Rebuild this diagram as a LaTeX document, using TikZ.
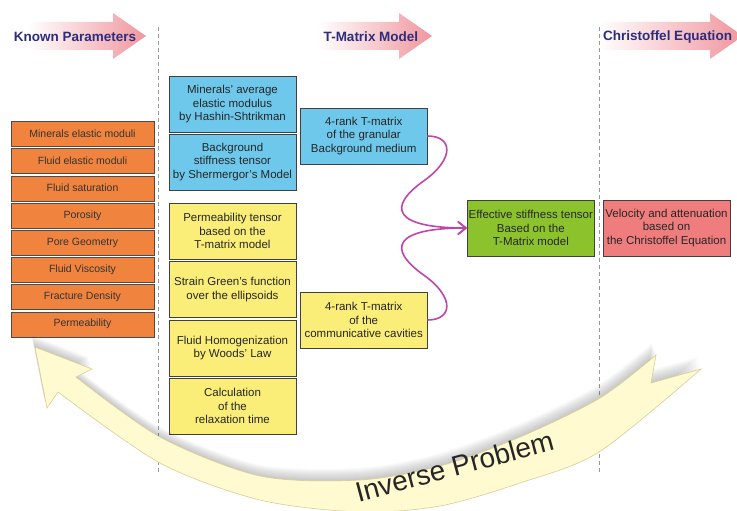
\documentclass[tikz,border=0pt]{standalone}
\usepackage{fontspec}
\setmainfont{Liberation Sans}
\usetikzlibrary{arrows.meta}
\definecolor{navy}{RGB}{45,45,125}
\definecolor{headpink}{RGB}{240,150,158}
\definecolor{parorange}{RGB}{240,132,62}
\definecolor{tblue}{RGB}{110,200,235}
\definecolor{tyellow}{RGB}{250,238,120}
\definecolor{tgreen}{RGB}{140,195,45}
\definecolor{tred}{RGB}{240,125,125}
\definecolor{bandfill}{RGB}{255,250,208}
\definecolor{bandline}{RGB}{215,205,150}
\definecolor{linkpurple}{RGB}{190,70,170}
\tikzstyle{param} = [rectangle, minimum width=143pt, minimum height=25pt, inner sep=0, text centered, draw=black!70, fill=parorange, text=black!80, font=\fontsize{10.5}{12}\selectfont]
\tikzstyle{stage} = [rectangle, minimum width=127pt, minimum height=56pt, inner sep=0, align=center, draw=black!75, text=black!85, font=\fontsize{11.5}{13.5}\selectfont]
\tikzstyle{headline} = [text=navy, font=\fontsize{13.5}{15}\selectfont\bfseries]
\tikzstyle{banner} = [left color=white, right color=headpink]
\tikzstyle{divider} = [gray!80, line width=0.7pt, dash pattern=on 4pt off 3pt]
\tikzstyle{link} = [line width=1.6pt, linkpurple, -{Straight Barb[length=8pt,width=13pt]}]
% the big curved band of the inverse problem
\newcommand{\swoosh}{(35,347) -- (92,369) -- plot[smooth] coordinates {(76,377) (160,437) (260,476) (360,480) (440,466) (520,437) (600,398) (656,355)} -- (651,383) -- (701,369) -- plot[smooth] coordinates {(701,369) (599,452) (520,483) (440,506) (360,512) (260,500) (160,463) (58,392)} -- (47,408) -- cycle}

\begin{document}
\begin{tikzpicture}[x=1pt,y=-1pt]
\useasboundingbox (0,0) rectangle (737,511);
\clip (0,0) rectangle (737,511);

% header arrows
\shade[banner] (28,22) -- (113,22) -- (113,13) -- (146,36) -- (113,59) -- (113,50) -- (28,50) -- cycle;
\shade[banner] (318,22) -- (399,22) -- (399,13) -- (432,36) -- (399,59) -- (399,50) -- (318,50) -- cycle;
\shade[banner] (598,22) -- (710,22) -- (710,13) -- (743,36) -- (710,59) -- (710,50) -- (598,50) -- cycle;
\node[headline] (known) at (75,37) {Known Parameters};
\node[headline] (tmat) at (371,37) {T-Matrix Model};
\node[headline] (christ) at (667.5,37) {Christoffel Equation};

\draw[divider] (158,27) -- (158,472);
\draw[divider] (599,27) -- (599,472);

% known parameters
\foreach \name [count=\i] in {Minerals elastic moduli, Fluid elastic moduli, Fluid saturation, Porosity, Pore Geometry, Fluid Viscosity, Fracture Density, Permeability}
	\node[param] (p\i) at (82.5,{133.8+27.2*(\i-1)}) {\name};

% T-matrix model
\node[stage, fill=tblue] (hs) at (232.5,104.2) {Minerals' average\\elastic modulus\\by Hashin-Shtrikman};
\node[stage, fill=tblue] (sm) at (232.5,162) {Background\\stiffness tensor\\by Shermergor's Model};
\node[stage, fill=tyellow] (perm) at (232.5,231) {Permeability tensor\\based on the\\T-matrix model};
\node[stage, fill=tyellow] (green) at (232.5,289.3) {Strain Green's function\\over the ellipsoids};
\node[stage, fill=tyellow] (woods) at (232.5,348) {Fluid Homogenization\\by Woods' Law};
\node[stage, fill=tyellow] (relax) at (232.5,406) {Calculation\\of the\\relaxation time};
\node[stage, fill=tblue] (bgT) at (363.7,136) {4-rank T-matrix\\of the granular\\Background medium};
\node[stage, fill=tyellow] (cavT) at (363.7,320) {4-rank T-matrix\\of the\\communicative cavities};
\node[stage, fill=tgreen] (eff) at (530.8,228) {Effective stiffness tensor\\Based on the\\T-Matrix model};
\node[stage, fill=tred] (chr) at (666.5,228) {Velocity and attenuation\\based on\\the Christoffel Equation};

\draw[link] (bgT.east) .. controls +(25,0) and +(30,-22) .. (425,180) .. controls +(-40,28) and +(-72,0) .. (eff.west);
\draw[link] (cavT.east) .. controls +(25,0) and +(30,22) .. (425,276) .. controls +(-40,-28) and +(-72,0) .. (eff.west);

% inverse problem
\foreach \s in {1,2,...,12}
	\fill[black, opacity=0.018, shift={(-0.3*\s,-\s)}] \swoosh;
\filldraw[fill=bandfill, draw=bandline, line width=0.6pt] \swoosh;
\node[anchor=base, rotate=15, text=black!85, font=\fontsize{28}{30}\selectfont] (inv) at (457,476) {Inverse Problem};
\end{tikzpicture}
\end{document}
